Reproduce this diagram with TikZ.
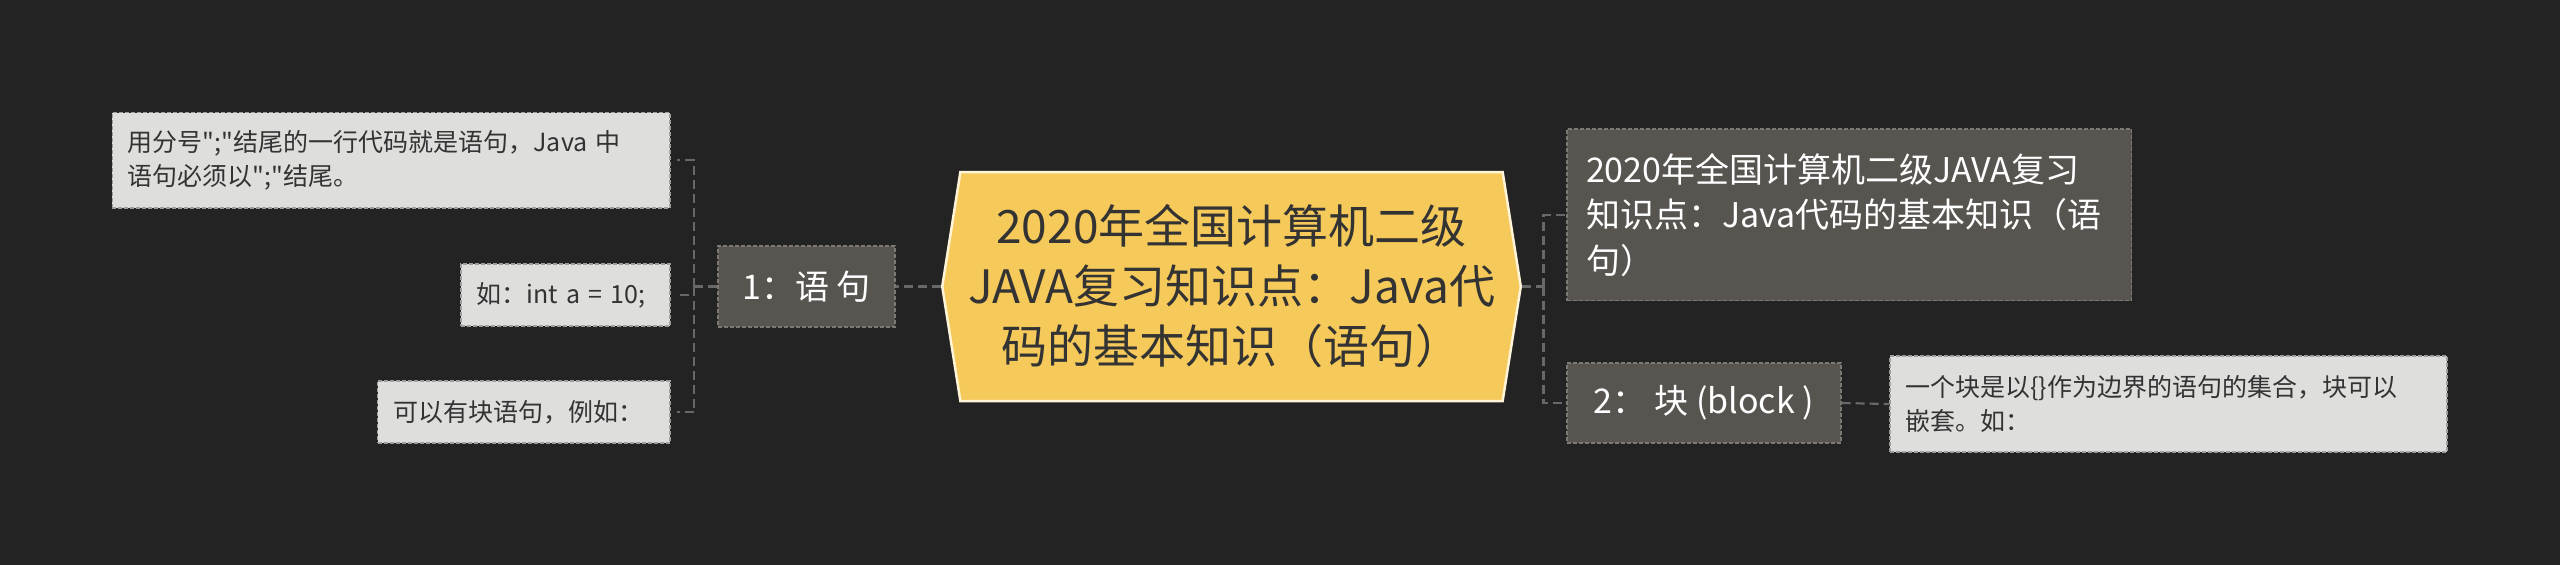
\documentclass[tikz,border=0pt]{standalone}
\usepackage{fontspec}
\setmainfont{Noto Sans CJK SC}[Ligatures=TeXOff]
\usepackage{xcolor}
\usetikzlibrary{shapes.symbols}

\definecolor{bg}{HTML}{232323}
\definecolor{linkgray}{HTML}{686868}
\definecolor{leaffill}{HTML}{DEDEDC}
\definecolor{leafline}{HTML}{9E9E9C}
\definecolor{branchfill}{HTML}{585450}
\definecolor{branchline}{HTML}{7C7874}
\definecolor{rootfill}{HTML}{F5C95A}
\definecolor{rootline}{HTML}{FFF4D8}
\definecolor{ink}{HTML}{333333}

\begin{document}
\begin{tikzpicture}[x=1pt,y=-1pt,
	link/.style={draw=linkgray, line width=2.2pt, dash pattern=on 9pt off 5pt},
	leaf/.style={fill=leaffill, draw=leafline, line width=1.2pt, dash pattern=on 4pt off 2pt,
		align=left, text=ink, inner xsep=15.5pt, font=\fontsize{25}{34}\selectfont},
	branch/.style={fill=branchfill, draw=branchline, line width=1.2pt, dash pattern=on 4pt off 2pt,
		align=left, text=white, inner xsep=19pt, font=\fontsize{34}{45.5}\selectfont}]
				\fill[bg] (0,0) rectangle (2560,565);
				% root
				\node[signal, signal to=west and east, signal pointer angle=162,
					minimum width=578.5, minimum height=229, fill=rootfill, draw=rootline, line width=2.5pt,
					align=center, text=ink, font=\fontsize{46}{60}\selectfont] (root) at (1231.5,286.5)
					{2020年全国计算机二级\\JAVA复习知识点：Java代\\码的基本知识（语句）};
				% left branch
				\node[branch, minimum width=177, minimum height=81, align=center] (s1) at (806.5,286.5) {1：语 句};
				\node[leaf, text width=526.5, minimum height=95.5] (s1a) at (391.2,160.3)
					{用分号";"结尾的一行代码就是语句，Java 中\\语句必须以";"结尾。};
				\node[leaf, text width=178, minimum height=62] (s1b) at (565.5,295) {如：int a = 10;};
				\node[leaf, text width=261.4, minimum height=62] (s1c) at (523.8,412) {可以有块语句，例如：};
				% right branch
				\node[branch, text width=526.6, minimum height=171.7] (title) at (1849.3,214.9)
					{2020年全国计算机二级JAVA复习\\知识点：Java代码的基本知识（语\\句）};
				\node[branch, minimum width=274, minimum height=80, align=center] (s2) at (1704,403) {2： 块 (block )};
				\node[leaf, text width=526, minimum height=96] (s2a) at (2168.5,404)
					{一个块是以\{\}作为边界的语句的集合，块可以\\嵌套。如：};
				% links
				\coordinate (lb) at (694,286.5);
				\coordinate (rb) at (1543.4,286.5);
				\draw[link] (root.west) -- (s1.east);
				\draw[link] (s1.west) -- (lb);
				\foreach \n in {s1a,s1b,s1c}
				{
					\draw[link] (lb) |- ([xshift=6]\n.east);
				}
				\draw[link] (root.east) -- (rb);
				\draw[link] (rb) |- (title.west);
				\draw[link] (rb) |- (s2.west);
				\draw[link] (s2.east) -- (s2a.west);
			\end{tikzpicture}
\end{document}
